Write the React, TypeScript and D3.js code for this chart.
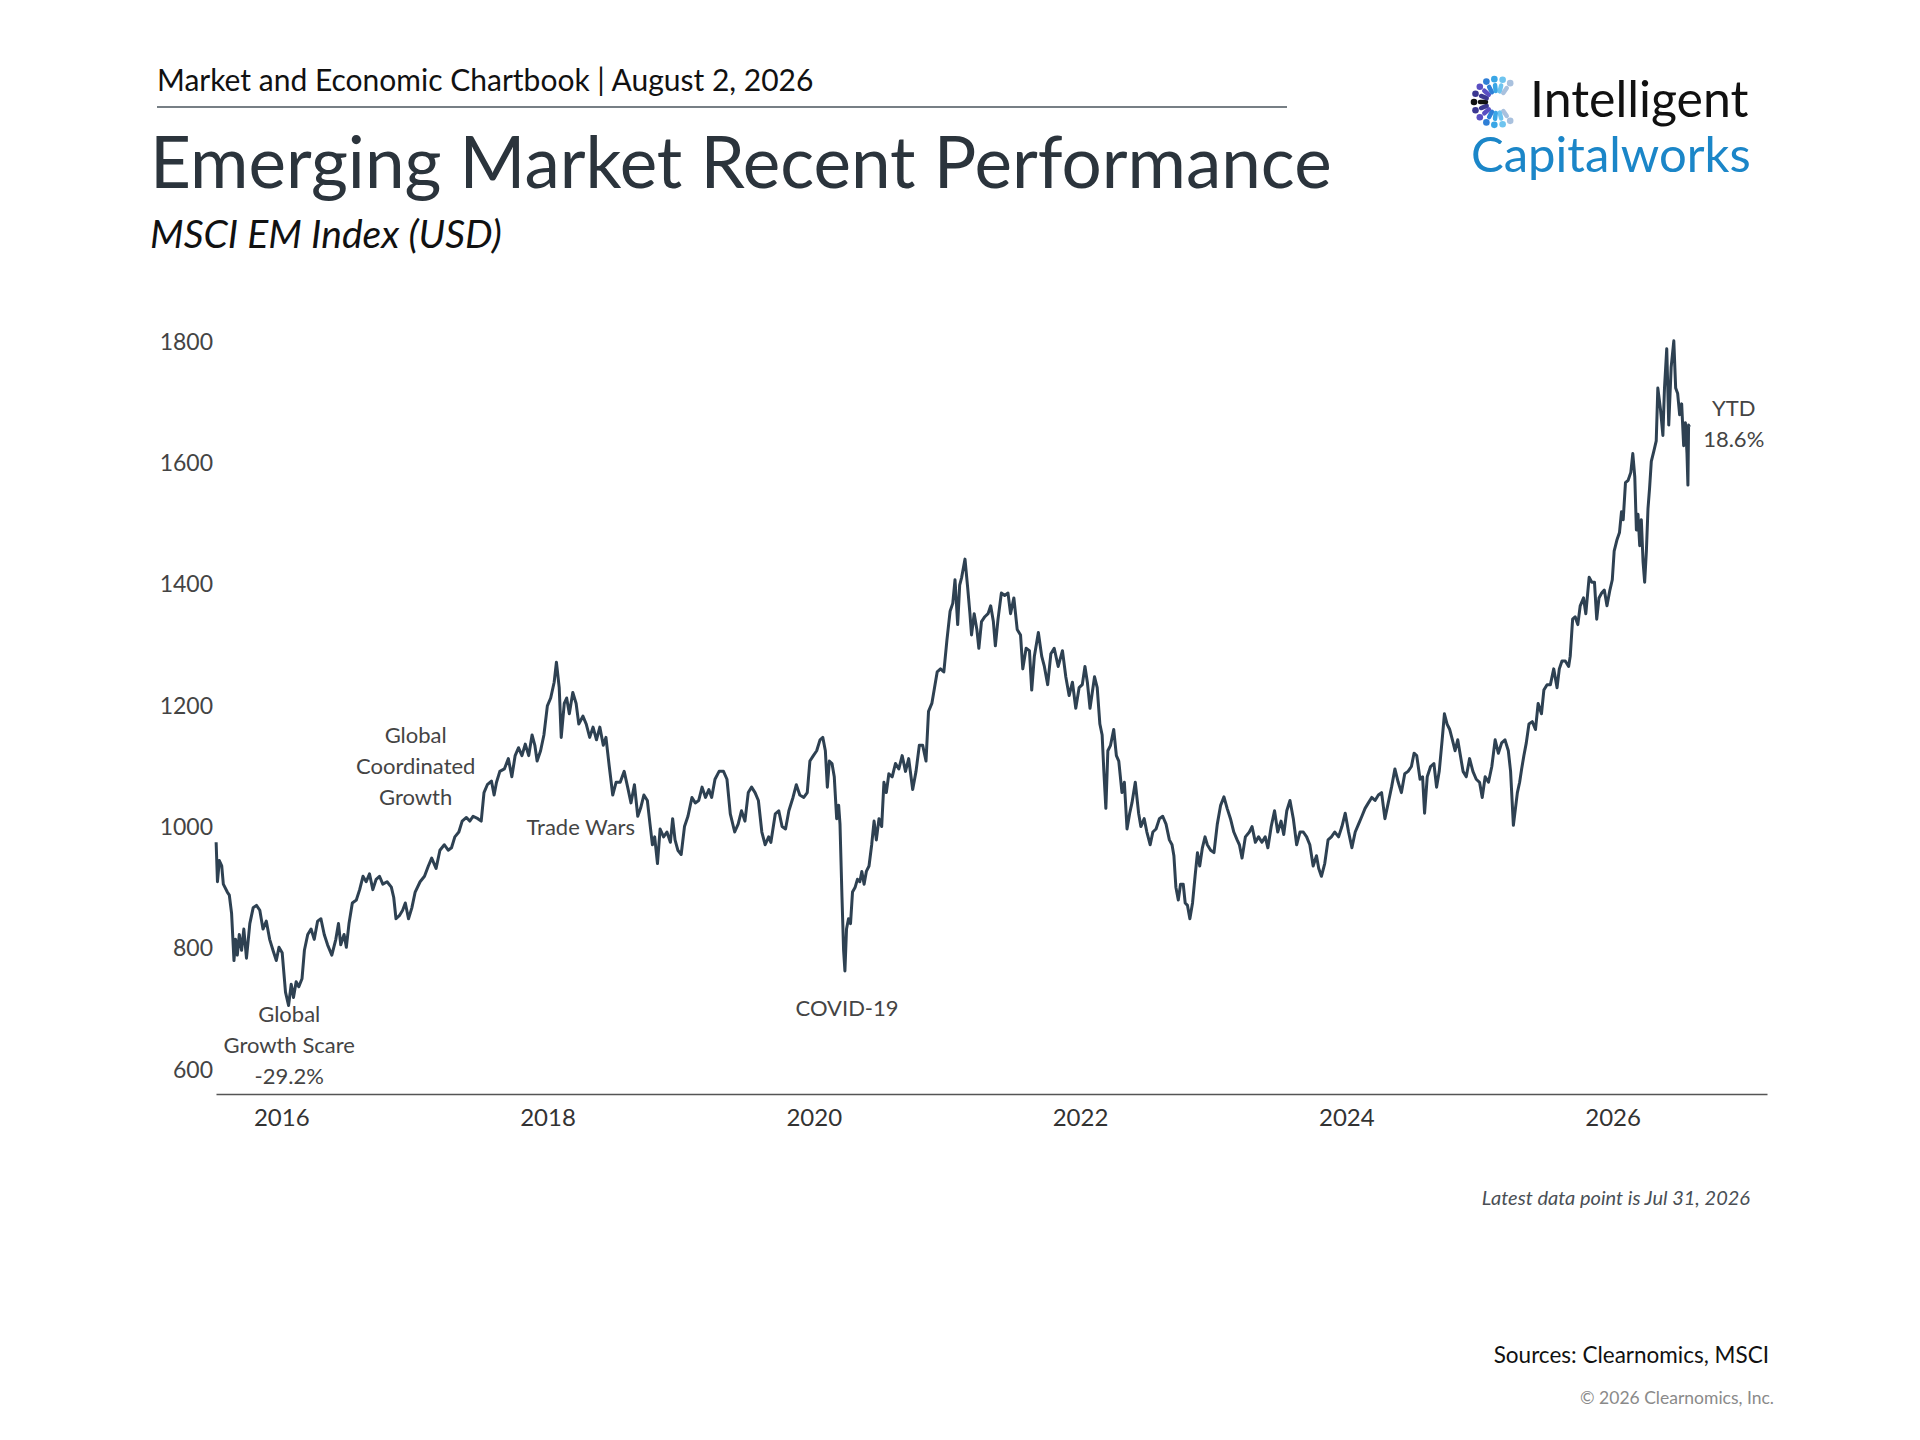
import * as d3 from "d3";
import { useEffect, useRef } from "react";

// Axis ticks
const yearTicks = [2016, 2018, 2020, 2022, 2024, 2026];
const valueTicks = [600, 800, 1000, 1200, 1400, 1600, 1800];

// MSCI EM index level as [decimal year, value]
const em2015to2017: [number, number][] = [
  [2015.511, 975], [2015.521, 910], [2015.535, 945], [2015.553, 936], [2015.565, 906],
  [2015.595, 893], [2015.61, 888], [2015.627, 858], [2015.645, 780], [2015.657, 815],
  [2015.67, 789], [2015.685, 823], [2015.702, 797], [2015.719, 832], [2015.739, 784],
  [2015.764, 841], [2015.789, 867], [2015.814, 871], [2015.839, 863], [2015.863, 832],
  [2015.888, 845], [2015.913, 815], [2015.938, 797], [2015.963, 780], [2015.983, 802],
  [2016.007, 793], [2016.032, 728], [2016.055, 706], [2016.075, 741], [2016.092, 719],
  [2016.112, 745], [2016.132, 737], [2016.156, 750], [2016.174, 797], [2016.199, 823],
  [2016.224, 832], [2016.248, 815], [2016.273, 845], [2016.298, 849], [2016.323, 823],
  [2016.348, 806], [2016.38, 789], [2016.41, 815], [2016.43, 841], [2016.447, 806],
  [2016.472, 823], [2016.489, 802], [2016.509, 841], [2016.534, 875], [2016.564, 880],
  [2016.589, 897], [2016.614, 919], [2016.638, 910], [2016.663, 923], [2016.688, 897],
  [2016.713, 914], [2016.738, 919], [2016.763, 906], [2016.795, 910], [2016.827, 901],
  [2016.845, 884], [2016.862, 849], [2016.887, 854], [2016.912, 863], [2016.932, 875],
  [2016.956, 849], [2016.981, 867], [2017.006, 893], [2017.043, 910], [2017.076, 919],
  [2017.105, 936], [2017.13, 949], [2017.163, 932], [2017.192, 962], [2017.225, 971],
  [2017.254, 962], [2017.279, 966], [2017.304, 984], [2017.334, 992], [2017.359, 1010],
  [2017.391, 1016], [2017.416, 1010], [2017.441, 1018],
];

const em2017to2020: [number, number][] = [
  [2017.477, 1014], [2017.502, 1010], [2017.523, 1057], [2017.548, 1070], [2017.579, 1076],
  [2017.599, 1053], [2017.617, 1074], [2017.642, 1092], [2017.676, 1096], [2017.706, 1113],
  [2017.732, 1083], [2017.757, 1118], [2017.782, 1131], [2017.808, 1118], [2017.833, 1137],
  [2017.859, 1118], [2017.884, 1152], [2017.905, 1135], [2017.922, 1109], [2017.948, 1126],
  [2017.973, 1152], [2017.999, 1200], [2018.024, 1213], [2018.05, 1239], [2018.067, 1272],
  [2018.088, 1230], [2018.103, 1148], [2018.126, 1204], [2018.144, 1213], [2018.164, 1187],
  [2018.19, 1222], [2018.215, 1204], [2018.235, 1170], [2018.266, 1183], [2018.291, 1170],
  [2018.317, 1148], [2018.342, 1165], [2018.368, 1144], [2018.393, 1165], [2018.419, 1135],
  [2018.439, 1148], [2018.464, 1100], [2018.49, 1053], [2018.515, 1074], [2018.546, 1074],
  [2018.576, 1092], [2018.602, 1066], [2018.627, 1040], [2018.653, 1070], [2018.678, 1018],
  [2018.699, 1031], [2018.724, 1053], [2018.75, 1044], [2018.77, 1005], [2018.788, 971],
  [2018.805, 984], [2018.826, 940], [2018.846, 997], [2018.872, 984], [2018.897, 992],
  [2018.923, 975], [2018.94, 1014], [2018.958, 979], [2018.979, 962], [2019.004, 955],
  [2019.029, 1001], [2019.055, 1018], [2019.085, 1049], [2019.11, 1040], [2019.136, 1044],
  [2019.161, 1066], [2019.187, 1049], [2019.212, 1062], [2019.233, 1049], [2019.258, 1079],
  [2019.289, 1092], [2019.322, 1092], [2019.348, 1079], [2019.373, 1022], [2019.406, 992],
  [2019.432, 1005], [2019.457, 1027], [2019.483, 1010], [2019.508, 1057], [2019.533, 1066],
  [2019.559, 1057], [2019.584, 1044], [2019.61, 992], [2019.635, 971], [2019.661, 984],
  [2019.678, 975], [2019.711, 1022], [2019.737, 1027], [2019.762, 1001], [2019.788, 997],
  [2019.813, 1027], [2019.844, 1049], [2019.869, 1070], [2019.895, 1053], [2019.925, 1049],
  [2019.951, 1057], [2019.971, 1109], [2019.997, 1118], [2020.022, 1126], [2020.047, 1144],
];

const em2020to2022: [number, number][] = [
  [2020.068, 1148], [2020.087, 1126], [2020.102, 1066], [2020.117, 1109], [2020.137, 1105],
  [2020.154, 1083], [2020.172, 1014], [2020.187, 1036], [2020.197, 1005], [2020.212, 884],
  [2020.224, 797], [2020.234, 763], [2020.246, 832], [2020.261, 849], [2020.276, 841],
  [2020.291, 893], [2020.311, 901], [2020.328, 914], [2020.346, 910], [2020.361, 927],
  [2020.378, 906], [2020.395, 927], [2020.415, 936], [2020.435, 971], [2020.453, 1010],
  [2020.47, 979], [2020.49, 1014], [2020.51, 1001], [2020.527, 1074], [2020.545, 1057],
  [2020.564, 1088], [2020.589, 1083], [2020.614, 1105], [2020.639, 1096], [2020.664, 1118],
  [2020.689, 1092], [2020.713, 1113], [2020.743, 1062], [2020.768, 1092], [2020.793, 1135],
  [2020.818, 1135], [2020.843, 1109], [2020.862, 1191], [2020.887, 1204], [2020.907, 1230],
  [2020.927, 1256], [2020.952, 1261], [2020.977, 1256], [2021.0, 1308], [2021.024, 1356],
  [2021.044, 1369], [2021.061, 1408], [2021.081, 1334], [2021.096, 1399], [2021.111, 1412],
  [2021.136, 1442], [2021.156, 1395], [2021.173, 1352], [2021.185, 1317], [2021.205, 1352],
  [2021.225, 1326], [2021.24, 1295], [2021.26, 1339], [2021.285, 1347], [2021.309, 1352],
  [2021.329, 1365], [2021.349, 1339], [2021.364, 1299], [2021.384, 1343], [2021.409, 1386],
  [2021.434, 1382], [2021.459, 1386], [2021.478, 1352], [2021.503, 1378], [2021.528, 1326],
  [2021.553, 1317], [2021.57, 1261], [2021.595, 1295], [2021.62, 1291], [2021.637, 1226],
  [2021.657, 1282], [2021.687, 1321], [2021.712, 1282], [2021.732, 1265], [2021.757, 1235],
  [2021.781, 1286], [2021.806, 1295], [2021.836, 1265], [2021.868, 1291], [2021.893, 1248],
  [2021.918, 1217], [2021.943, 1239], [2021.968, 1196], [2021.993, 1230], [2022.017, 1235],
  [2022.037, 1265], [2022.055, 1239], [2022.075, 1196], [2022.092, 1222], [2022.109, 1248],
  [2022.129, 1230], [2022.149, 1170], [2022.166, 1152], [2022.179, 1092], [2022.194, 1031],
  [2022.209, 1126], [2022.229, 1135], [2022.253, 1161], [2022.273, 1118], [2022.291, 1109],
  [2022.315, 1057], [2022.333, 1074], [2022.353, 997], [2022.373, 1023], [2022.39, 1040],
  [2022.415, 1074], [2022.44, 1023], [2022.457, 1001], [2022.482, 1014], [2022.502, 992],
  [2022.527, 971], [2022.547, 992], [2022.571, 997], [2022.596, 1014], [2022.621, 1018],
  [2022.646, 1005], [2022.671, 979], [2022.691, 971], [2022.705, 953], [2022.72, 901],
  [2022.738, 880], [2022.755, 906],
];

const em2022to2025: [number, number][] = [
  [2022.775, 906], [2022.79, 875], [2022.807, 871], [2022.825, 849], [2022.845, 875],
  [2022.864, 919], [2022.882, 958], [2022.899, 936], [2022.919, 966], [2022.939, 984],
  [2022.956, 971], [2022.981, 962], [2023.006, 958], [2023.031, 1005], [2023.056, 1036],
  [2023.081, 1050], [2023.105, 1031], [2023.13, 1014], [2023.155, 992], [2023.18, 979],
  [2023.197, 971], [2023.217, 949], [2023.242, 984], [2023.272, 992], [2023.292, 1001],
  [2023.317, 975], [2023.341, 984], [2023.366, 975], [2023.391, 984], [2023.411, 966],
  [2023.436, 1001], [2023.461, 1027], [2023.485, 992], [2023.51, 1010], [2023.53, 988],
  [2023.553, 1027], [2023.577, 1044], [2023.602, 1014], [2023.627, 971], [2023.652, 992],
  [2023.677, 992], [2023.702, 984], [2023.726, 971], [2023.751, 936], [2023.776, 953],
  [2023.793, 932], [2023.813, 919], [2023.838, 940], [2023.863, 979], [2023.888, 984],
  [2023.913, 992], [2023.942, 984], [2023.967, 1001], [2023.992, 1023], [2024.017, 992],
  [2024.042, 966], [2024.067, 992], [2024.092, 1005], [2024.117, 1018], [2024.141, 1031],
  [2024.166, 1040], [2024.191, 1049], [2024.216, 1044], [2024.241, 1053], [2024.265, 1057],
  [2024.29, 1014], [2024.315, 1040], [2024.34, 1066], [2024.365, 1096], [2024.39, 1074],
  [2024.414, 1057], [2024.439, 1088], [2024.464, 1092], [2024.489, 1100], [2024.509, 1122],
  [2024.529, 1118], [2024.554, 1079], [2024.573, 1083], [2024.588, 1023], [2024.608, 1083],
  [2024.633, 1100], [2024.658, 1105], [2024.678, 1066], [2024.698, 1092], [2024.72, 1144],
  [2024.737, 1187], [2024.757, 1170], [2024.777, 1161], [2024.797, 1144], [2024.817, 1126],
  [2024.837, 1144], [2024.857, 1118], [2024.877, 1092], [2024.901, 1083], [2024.926, 1113],
  [2024.951, 1092], [2024.976, 1079], [2025.001, 1074], [2025.021, 1049], [2025.043, 1083],
  [2025.068, 1074], [2025.093, 1100], [2025.118, 1144], [2025.142, 1122], [2025.167, 1139],
  [2025.192, 1144], [2025.217, 1126], [2025.234, 1092], [2025.255, 1003],
];

const em2025to2026: [number, number][] = [
  [2025.285, 1057], [2025.302, 1074], [2025.317, 1096], [2025.334, 1118], [2025.352, 1139],
  [2025.372, 1170], [2025.397, 1174], [2025.421, 1161], [2025.441, 1204], [2025.466, 1187],
  [2025.484, 1226], [2025.508, 1235], [2025.533, 1235], [2025.558, 1261], [2025.583, 1230],
  [2025.6, 1261], [2025.62, 1274], [2025.645, 1274], [2025.67, 1265], [2025.682, 1282],
  [2025.7, 1343], [2025.719, 1347], [2025.739, 1334], [2025.757, 1365], [2025.782, 1378],
  [2025.799, 1352], [2025.824, 1412], [2025.844, 1404], [2025.864, 1404], [2025.881, 1343],
  [2025.898, 1378], [2025.918, 1386], [2025.938, 1391], [2025.958, 1365], [2025.98, 1391],
  [2025.998, 1408], [2026.012, 1455], [2026.032, 1473], [2026.052, 1486], [2026.067, 1520],
  [2026.08, 1507], [2026.097, 1568], [2026.117, 1572], [2026.137, 1585], [2026.152, 1616],
  [2026.167, 1577], [2026.179, 1490], [2026.191, 1516], [2026.204, 1464], [2026.216, 1507],
  [2026.229, 1438], [2026.241, 1404], [2026.254, 1455], [2026.266, 1525], [2026.278, 1559],
  [2026.291, 1603], [2026.31, 1620], [2026.328, 1637], [2026.34, 1724], [2026.36, 1689],
  [2026.378, 1646], [2026.39, 1724], [2026.407, 1789], [2026.422, 1663], [2026.44, 1758],
  [2026.46, 1802], [2026.474, 1724], [2026.489, 1715], [2026.504, 1680], [2026.519, 1698],
  [2026.534, 1629], [2026.547, 1667], [2026.559, 1616], [2026.566, 1564], [2026.571, 1663],
  [2026.578, 1660],
];

const emIndex = [
  ...em2015to2017,
  ...em2017to2020,
  ...em2020to2022,
  ...em2022to2025,
  ...em2025to2026,
];

// Event labels anchored in data space (year, index level of the first line)
const annotations = [
  { lines: ["Global", "Coordinated", "Growth"], year: 2017.01, value: 1154 },
  { lines: ["Trade Wars"], year: 2018.25, value: 1002 },
  { lines: ["Global", "Growth Scare", "-29.2%"], year: 2016.06, value: 694 },
  { lines: ["COVID-19"], year: 2020.25, value: 703 },
  { lines: ["YTD", "18.6%"], year: 2026.91, value: 1693 },
];

// Logo spoke colours, going round the "C" from top right to bottom right
const logoColors = [
  "#a9c1de", "#6ec4ef", "#3aa6e6", "#2f7fd6", "#5a4fc2", "#3b3790", "#111111",
  "#3b3790", "#5a4fc2", "#2f7fd6", "#3aa6e6", "#6ec4ef", "#a9c1de",
];

const FONT = "Lato, 'Noto Sans', sans-serif";

export default function App() {
  const svgRef = useRef<SVGSVGElement>(null);

  useEffect(() => {
    const svg = d3.select(svgRef.current);
    svg.selectAll("*").remove();

    const width = 1920;
    const height = 1440;

    svg.append("rect").attr("width", width).attr("height", height).attr("fill", "#fff");

    // Header
    svg
      .append("text")
      .attr("x", 157)
      .attr("y", 91)
      .attr("font-family", FONT)
      .attr("font-size", 30)
      .attr("fill", "#111")
      .text("Market and Economic Chartbook | August 2, 2026");

    svg
      .append("line")
      .attr("x1", 157)
      .attr("x2", 1287)
      .attr("y1", 107)
      .attr("y2", 107)
      .attr("stroke", "#4a545c")
      .attr("stroke-width", 1.5);

    svg
      .append("text")
      .attr("x", 150)
      .attr("y", 188)
      .attr("font-family", FONT)
      .attr("font-size", 71)
      .attr("fill", "#2b343c")
      .text("Emerging Market Recent Performance");

    svg
      .append("text")
      .attr("x", 150)
      .attr("y", 248)
      .attr("font-family", FONT)
      .attr("font-style", "italic")
      .attr("font-size", 39)
      .attr("fill", "#111")
      .text("MSCI EM Index (USD)");

    // Logo
    const logo = svg.append("g").attr("transform", "translate(1497,102)");
    const spokeAngle = d3
      .scaleLinear()
      .domain([0, logoColors.length - 1])
      .range([-55, -305]);
    logoColors.forEach((c, i) => {
      const a = (spokeAngle(i) * Math.PI) / 180;
      const cx = Math.cos(a);
      const sy = -Math.sin(a);
      logo
        .append("line")
        .attr("x1", cx * 11)
        .attr("y1", sy * 11)
        .attr("x2", cx * 17)
        .attr("y2", sy * 17)
        .attr("stroke", c)
        .attr("stroke-width", 4.5)
        .attr("stroke-linecap", "round");
      logo
        .append("circle")
        .attr("cx", cx * 23)
        .attr("cy", sy * 23)
        .attr("r", 3.3)
        .attr("fill", c);
    });

    svg
      .append("text")
      .attr("x", 1530)
      .attr("y", 117)
      .attr("font-family", FONT)
      .attr("font-size", 50)
      .attr("fill", "#111")
      .text("Intelligent");

    svg
      .append("text")
      .attr("x", 1471)
      .attr("y", 172)
      .attr("font-family", FONT)
      .attr("font-size", 49)
      .attr("fill", "#1b86c8")
      .text("Capitalworks");

    // Scales
    const x = d3.scaleLinear().domain([2015.51, 2027.16]).range([216, 1767]);
    const y = d3.scaleLinear().domain([560, 1800]).range([1094, 342]);

    // Y axis labels
    const yAxis = svg
      .append("g")
      .attr("transform", "translate(216,0)")
      .call(
        d3
          .axisLeft(y)
          .tickValues(valueTicks)
          .tickFormat(d3.format("d"))
          .tickSize(0)
          .tickPadding(3),
      );
    yAxis.select(".domain").remove();
    yAxis
      .selectAll("text")
      .attr("font-family", FONT)
      .attr("font-size", 23)
      .attr("fill", "#444");

    // X axis
    const xAxis = svg
      .append("g")
      .attr("transform", `translate(0,${y(560)})`)
      .call(
        d3
          .axisBottom(x)
          .tickValues(yearTicks)
          .tickFormat((d) => String(d))
          .tickSize(0)
          .tickSizeOuter(0)
          .tickPadding(15),
      );
    xAxis.select(".domain").attr("stroke", "#555").attr("stroke-width", 1.5);
    xAxis
      .selectAll("text")
      .attr("font-family", FONT)
      .attr("font-size", 24)
      .attr("fill", "#333");

    // Index line
    const line = d3
      .line<[number, number]>()
      .x((d) => x(d[0]))
      .y((d) => y(d[1]));

    svg
      .append("path")
      .datum(emIndex)
      .attr("d", line)
      .attr("fill", "none")
      .attr("stroke", "#2e4152")
      .attr("stroke-width", 3)
      .attr("stroke-linejoin", "round");

    // Annotations
    annotations.forEach((a) => {
      const t = svg
        .append("text")
        .attr("x", x(a.year))
        .attr("y", y(a.value))
        .attr("text-anchor", "middle")
        .attr("dominant-baseline", "central")
        .attr("font-family", FONT)
        .attr("font-size", 22)
        .attr("fill", "#444");
      a.lines.forEach((l, i) => {
        t.append("tspan")
          .attr("x", x(a.year))
          .attr("dy", i === 0 ? 0 : 31)
          .text(l);
      });
    });

    // Footer
    svg
      .append("text")
      .attr("x", 1750)
      .attr("y", 1205)
      .attr("text-anchor", "end")
      .attr("font-family", FONT)
      .attr("font-style", "italic")
      .attr("font-size", 20)
      .attr("fill", "#4a4f55")
      .text("Latest data point is Jul 31, 2026");

    svg
      .append("text")
      .attr("x", 1769)
      .attr("y", 1363)
      .attr("text-anchor", "end")
      .attr("font-family", FONT)
      .attr("font-size", 22.5)
      .attr("fill", "#111")
      .text("Sources: Clearnomics, MSCI");

    svg
      .append("text")
      .attr("x", 1774)
      .attr("y", 1404)
      .attr("text-anchor", "end")
      .attr("font-family", FONT)
      .attr("font-size", 17.5)
      .attr("fill", "#8a8a8a")
      .text("© 2026 Clearnomics, Inc.");
  }, []);

  return (
    <svg
      ref={svgRef}
      width={1920}
      height={1440}
      style={{ position: "absolute", left: 0, top: 0 }}
    />
  );
}
